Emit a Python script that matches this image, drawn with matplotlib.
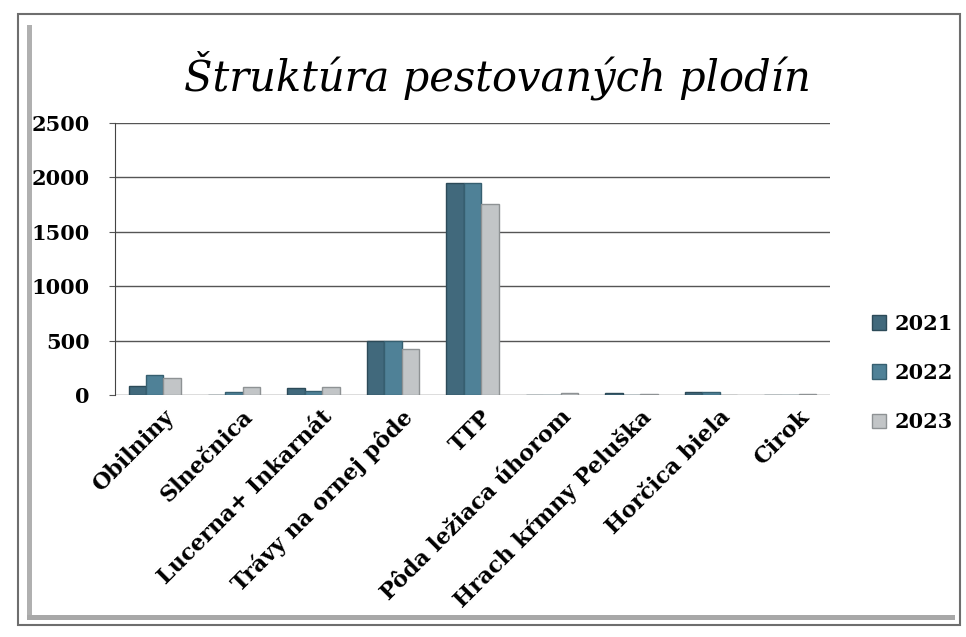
import matplotlib
matplotlib.use("Agg")
import matplotlib.pyplot as plt
import numpy as np
from matplotlib.patches import Rectangle
import matplotlib.transforms as mtransforms

categories = ["Obilniny", "Slnečnica", "Lucerna+ Inkarnát", "Trávy na ornej pôde", "TTP",
              "Pôda ležiaca úhorom", "Hrach kŕmny Peluška", "Horčica biela", "Cirok"]
v2021 = [80, 0, 60, 500, 1950, 0, 15, 25, 0]
v2022 = [180, 30, 40, 500, 1950, 0, 0, 25, 0]
v2023 = [160, 70, 70, 420, 1760, 15, 10, 0, 10]
series = ["2021", "2022", "2023"]
yticks = [0, 500, 1000, 1500, 2000, 2500]

colors = ["#41697c", "#4f8197", "#c2c5c7"]
edges = ["#2c4a58", "#365f70", "#8e9294"]

fig = plt.figure(figsize=(9.66, 6.37), dpi=100)
fig.patch.set_facecolor("white")

# frame
W, H = 966, 637
fig.add_artist(Rectangle((18 / W, 1 - 625 / H), (960 - 18) / W, (625 - 14) / H,
                         transform=fig.transFigure, fill=False, edgecolor="#6e6e6e", lw=1.5))
fig.add_artist(Rectangle((27 / W, 1 - 618 / H), 5 / W, (618 - 25) / H,
                         transform=fig.transFigure, facecolor="#b0b0b0", edgecolor="none"))
fig.add_artist(Rectangle((27 / W, 1 - 620 / H), (955 - 27) / W, 5 / H,
                         transform=fig.transFigure, facecolor="#a8a8a8", edgecolor="none"))

ax = fig.add_axes([115 / W, 1 - 395 / H, (830 - 115) / W, (395 - 123) / H])
x = np.arange(len(categories))
w = 0.22
for i, (vals, lab) in enumerate(zip([v2021, v2022, v2023], series)):
    ax.bar(x + (i - 1) * w, vals, width=w, color=colors[i], edgecolor=edges[i],
           linewidth=1.0, label=lab, zorder=3)

ax.set_xlim(-0.5, len(categories) - 0.5)
ax.set_ylim(0, 2500)
ax.set_yticks(yticks)
ax.set_yticklabels([str(t) for t in yticks], fontfamily="DejaVu Serif",
                   fontweight="bold", fontsize=15)
ax.yaxis.grid(True, color="#555555", lw=1.0, zorder=0)
ax.set_axisbelow(True)
for s in ["top", "right", "bottom"]:
    ax.spines[s].set_visible(False)
ax.spines["left"].set_color("#444444")
ax.tick_params(axis="y", length=4, color="#555555", pad=14)
ax.tick_params(axis="x", length=0, pad=8)
ax.set_xticks(x)
ax.set_xticklabels(categories, rotation=45, ha="right", rotation_mode="anchor",
                   fontfamily="DejaVu Serif", fontweight="bold", fontsize=16)
offset = mtransforms.ScaledTranslation(8 / 100, 0, fig.dpi_scale_trans)
for lbl in ax.get_xticklabels():
    lbl.set_transform(lbl.get_transform() + offset)

fig.text(0.515, 1 - 75 / H, "Štruktúra pestovaných plodín", ha="center", va="center",
         fontfamily="DejaVu Serif", fontstyle="italic", fontsize=30)

leg = fig.legend(loc="center left", bbox_to_anchor=(853 / W, 1 - 373 / H), frameon=False,
                 handlelength=0.7, handleheight=0.7, handletextpad=0.4, labelspacing=1.4,
                 prop={"family": "DejaVu Serif", "weight": "bold", "size": 15})

fig.savefig("out.png", dpi=100)
